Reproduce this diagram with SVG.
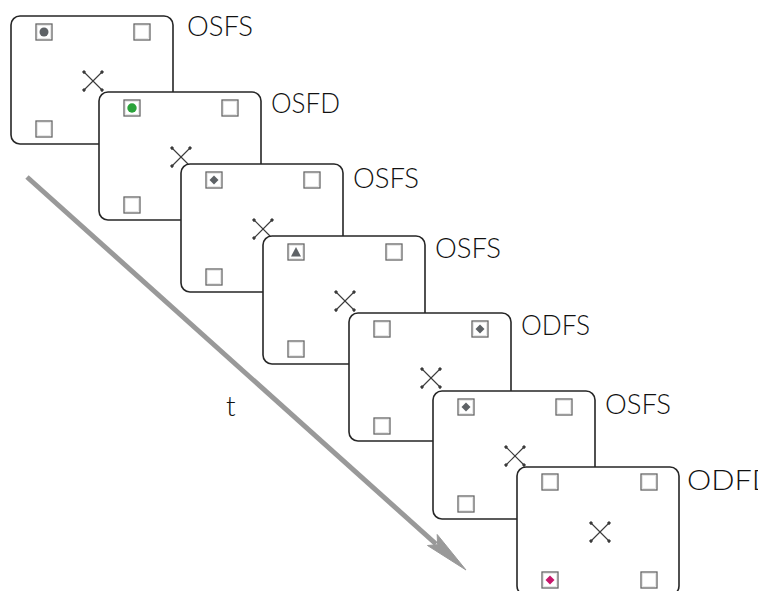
<svg xmlns="http://www.w3.org/2000/svg" xmlns:xlink="http://www.w3.org/1999/xlink" width="758" height="591" viewBox="0 0 758 591">
  <style>
    .panel { fill: #ffffff; stroke: #262626; stroke-width: 1.6; }
    .box { fill: #ffffff; stroke: #666666; stroke-width: 1.3; }
    .box-in { fill: none; stroke: #dddddd; stroke-width: 0.7; }
    .fix { stroke: #3a3a3a; stroke-width: 1.1; marker-start: url(#tip); marker-end: url(#tip); }
    .label { font-family: "Lato", "Open Sans", "Liberation Sans", sans-serif; font-weight: 300; font-size: 28px; fill: #111111; }
    .stim-gray { fill: #5e6266; }
    .stim-green { fill: #2aa33a; }
    .stim-red { fill: #c8176b; }
  </style>
  <defs>
    <marker id="tip" viewBox="-2 -2 4 4" markerWidth="4" markerHeight="4" markerUnits="userSpaceOnUse" orient="auto">
      <circle r="1.6" fill="#3a3a3a"/>
    </marker>
    <!-- placeholder box, 16 px square -->
    <g id="sq">
      <rect class="box" x="0" y="0" width="16" height="16"/>
      <rect class="box-in" x="1.5" y="1.5" width="13" height="13"/>
    </g>
    <!-- central fixation cross -->
    <g id="cross">
      <line class="fix" x1="-9" y1="-9" x2="9" y2="9"/>
      <line class="fix" x1="9" y1="-9" x2="-9" y2="9"/>
    </g>
    <rect id="frame" class="panel" x="0" y="0" width="162" height="128" rx="9" ry="9"/>
  </defs>

  <!-- time axis -->
  <g id="time-axis">
    <line x1="27" y1="177" x2="436" y2="544" stroke="#999999" stroke-width="5"/>
    <polygon points="466,570 427.5,545.5 437.6,544.7 437.2,534.5" fill="#999999" stroke="#999999" stroke-width="1" stroke-linejoin="miter"/>
    <text class="label" x="226" y="416">t</text>
  </g>

  <!-- frame 1 -->
  <g id="frame1" transform="translate(11,16)">
    <use xlink:href="#frame"/>
    <use xlink:href="#sq" x="25" y="8"/>
    <use xlink:href="#sq" x="123" y="8"/>
    <use xlink:href="#sq" x="25" y="105"/>
    <circle class="stim-gray" cx="33" cy="16" r="4.5"/>
    <use xlink:href="#cross" x="82" y="65"/>
  </g>
  <text id="label1" class="label" x="187" y="36" textLength="66" lengthAdjust="spacingAndGlyphs">OSFS</text>

  <!-- frame 2 -->
  <g id="frame2" transform="translate(99,92)">
    <use xlink:href="#frame"/>
    <use xlink:href="#sq" x="25" y="8"/>
    <use xlink:href="#sq" x="123" y="8"/>
    <use xlink:href="#sq" x="25" y="105"/>
    <circle class="stim-green" cx="33" cy="16" r="4.7"/>
    <use xlink:href="#cross" x="82" y="65"/>
  </g>
  <text id="label2" class="label" x="271" y="113" textLength="69" lengthAdjust="spacingAndGlyphs">OSFD</text>

  <!-- frame 3 -->
  <g id="frame3" transform="translate(181,164)">
    <use xlink:href="#frame"/>
    <use xlink:href="#sq" x="25" y="8"/>
    <use xlink:href="#sq" x="123" y="8"/>
    <use xlink:href="#sq" x="25" y="105"/>
    <polygon class="stim-gray" points="33,11.5 37.5,16 33,20.5 28.5,16"/>
    <use xlink:href="#cross" x="82" y="65"/>
  </g>
  <text id="label3" class="label" x="353" y="188" textLength="66" lengthAdjust="spacingAndGlyphs">OSFS</text>

  <!-- frame 4 -->
  <g id="frame4" transform="translate(263,236)">
    <use xlink:href="#frame"/>
    <use xlink:href="#sq" x="25" y="8"/>
    <use xlink:href="#sq" x="123" y="8"/>
    <use xlink:href="#sq" x="25" y="105"/>
    <polygon class="stim-gray" points="33,11 38,20.5 28,20.5"/>
    <use xlink:href="#cross" x="82" y="65"/>
  </g>
  <text id="label4" class="label" x="435" y="258" textLength="66" lengthAdjust="spacingAndGlyphs">OSFS</text>

  <!-- frame 5 -->
  <g id="frame5" transform="translate(349,313)">
    <use xlink:href="#frame"/>
    <use xlink:href="#sq" x="25" y="8"/>
    <use xlink:href="#sq" x="123" y="8"/>
    <use xlink:href="#sq" x="25" y="105"/>
    <polygon class="stim-gray" points="131,11.5 135.5,16 131,20.5 126.5,16"/>
    <use xlink:href="#cross" x="82" y="65"/>
  </g>
  <text id="label5" class="label" x="521" y="335" textLength="69" lengthAdjust="spacingAndGlyphs">ODFS</text>

  <!-- frame 6 -->
  <g id="frame6" transform="translate(433,391)">
    <use xlink:href="#frame"/>
    <use xlink:href="#sq" x="25" y="8"/>
    <use xlink:href="#sq" x="123" y="8"/>
    <use xlink:href="#sq" x="25" y="105"/>
    <polygon class="stim-gray" points="33,11.5 37.5,16 33,20.5 28.5,16"/>
    <use xlink:href="#cross" x="82" y="65"/>
  </g>
  <text id="label6" class="label" x="605" y="414" textLength="66" lengthAdjust="spacingAndGlyphs">OSFS</text>

  <!-- frame 7 -->
  <g id="frame7" transform="translate(517,467)">
    <use xlink:href="#frame"/>
    <use xlink:href="#sq" x="25" y="7"/>
    <use xlink:href="#sq" x="124" y="7"/>
    <use xlink:href="#sq" x="25" y="105"/>
    <use xlink:href="#sq" x="124" y="105"/>
    <polygon class="stim-red" points="33,108.5 37.5,113 33,117.5 28.5,113"/>
    <use xlink:href="#cross" x="83" y="65"/>
  </g>
  <text id="label7" class="label" x="687" y="490" textLength="88" lengthAdjust="spacingAndGlyphs">ODFD</text>
</svg>
